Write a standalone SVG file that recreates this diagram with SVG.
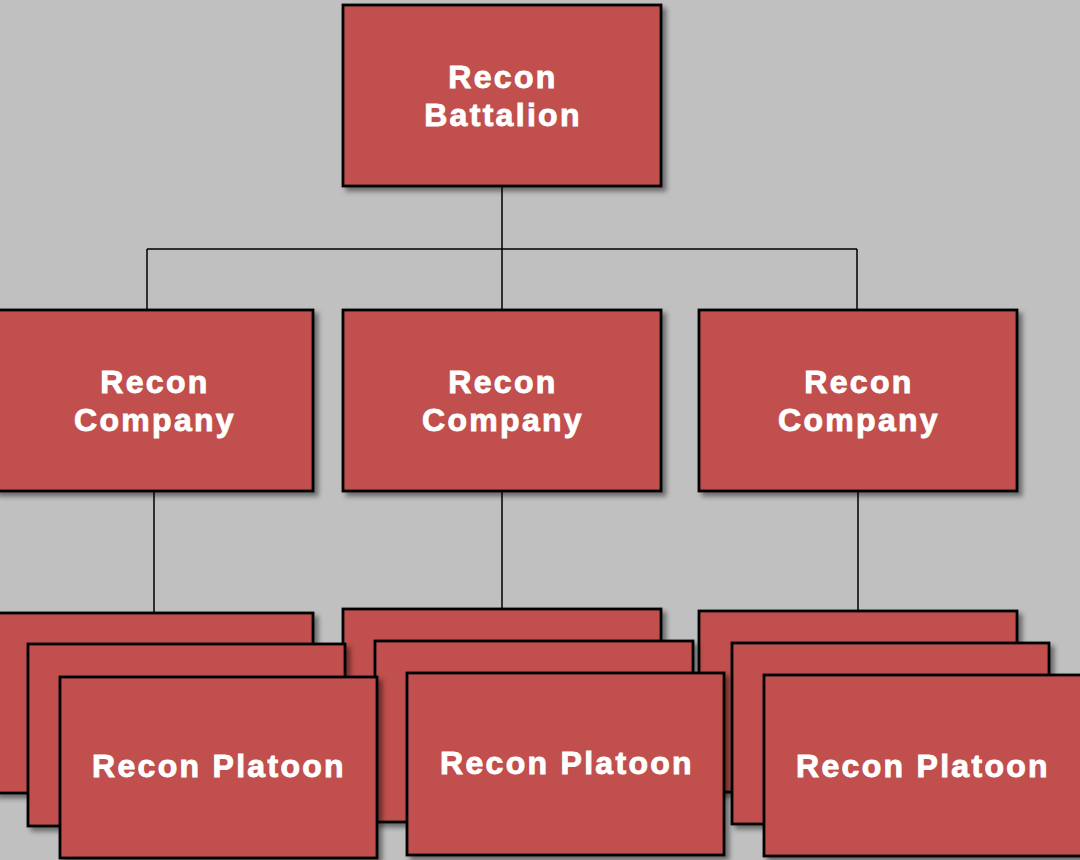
<svg xmlns="http://www.w3.org/2000/svg" width="1080" height="860" viewBox="0 0 1080 860">
<defs>
<filter id="sh" x="-10%" y="-10%" width="125%" height="125%">
<feDropShadow dx="4" dy="4" stdDeviation="2.5" flood-color="#000" flood-opacity="0.45"/>
</filter>
</defs>
<style>
.box{fill:#C0504D;stroke:#000;stroke-width:2.8;filter:url(#sh)}
.t{font-family:"Liberation Sans",Arial,sans-serif;font-weight:bold;font-size:32px;fill:#fff;stroke:#fff;stroke-width:0.9;text-anchor:middle;letter-spacing:2.3px}
.c{fill:none;stroke:#000;stroke-width:1.5}
</style>
<rect width="1080" height="860" fill="#C0C0C0"/>
<g id="connectors">
<path class="c" d="M502 186V249M147 249H857M147 249V310M502 249V310M857 249V310"/>
<path class="c" d="M154 491V613M502 491V609M858 491V611"/>
</g>
<g id="battalion">
<rect class="box" x="343" y="5" width="318" height="181"/>
<text class="t" x="503" y="88">Recon</text>
<text class="t" x="503" y="126">Battalion</text>
</g>
<g id="company1">
<rect class="box" x="-5" y="310" width="318" height="181"/>
<text class="t" x="155" y="393">Recon</text>
<text class="t" x="155" y="431">Company</text>
</g>
<g id="company2">
<rect class="box" x="343" y="310" width="318" height="181"/>
<text class="t" x="503" y="393">Recon</text>
<text class="t" x="503" y="431">Company</text>
</g>
<g id="company3">
<rect class="box" x="699" y="310" width="318" height="181"/>
<text class="t" x="859" y="393">Recon</text>
<text class="t" x="859" y="431">Company</text>
</g>
<g id="platoon1a"><rect class="box" x="-5" y="613" width="318" height="180"/></g>
<g id="platoon2a"><rect class="box" x="343" y="609" width="318" height="181"/></g>
<g id="platoon3a"><rect class="box" x="699" y="611" width="318" height="181"/></g>
<g id="platoon1b"><rect class="box" x="28" y="644" width="317" height="182"/></g>
<g id="platoon2b"><rect class="box" x="375" y="641" width="318" height="181"/></g>
<g id="platoon3b"><rect class="box" x="732" y="643" width="317" height="181"/></g>
<g id="platoon1c">
<rect class="box" x="60" y="677" width="317" height="181"/>
<text class="t" x="219" y="777">Recon Platoon</text>
</g>
<g id="platoon2c">
<rect class="box" x="407" y="673" width="317" height="182"/>
<text class="t" x="567" y="774">Recon Platoon</text>
</g>
<g id="platoon3c">
<rect class="box" x="764" y="675" width="318" height="181"/>
<text class="t" x="923" y="777">Recon Platoon</text>
</g>
</svg>
